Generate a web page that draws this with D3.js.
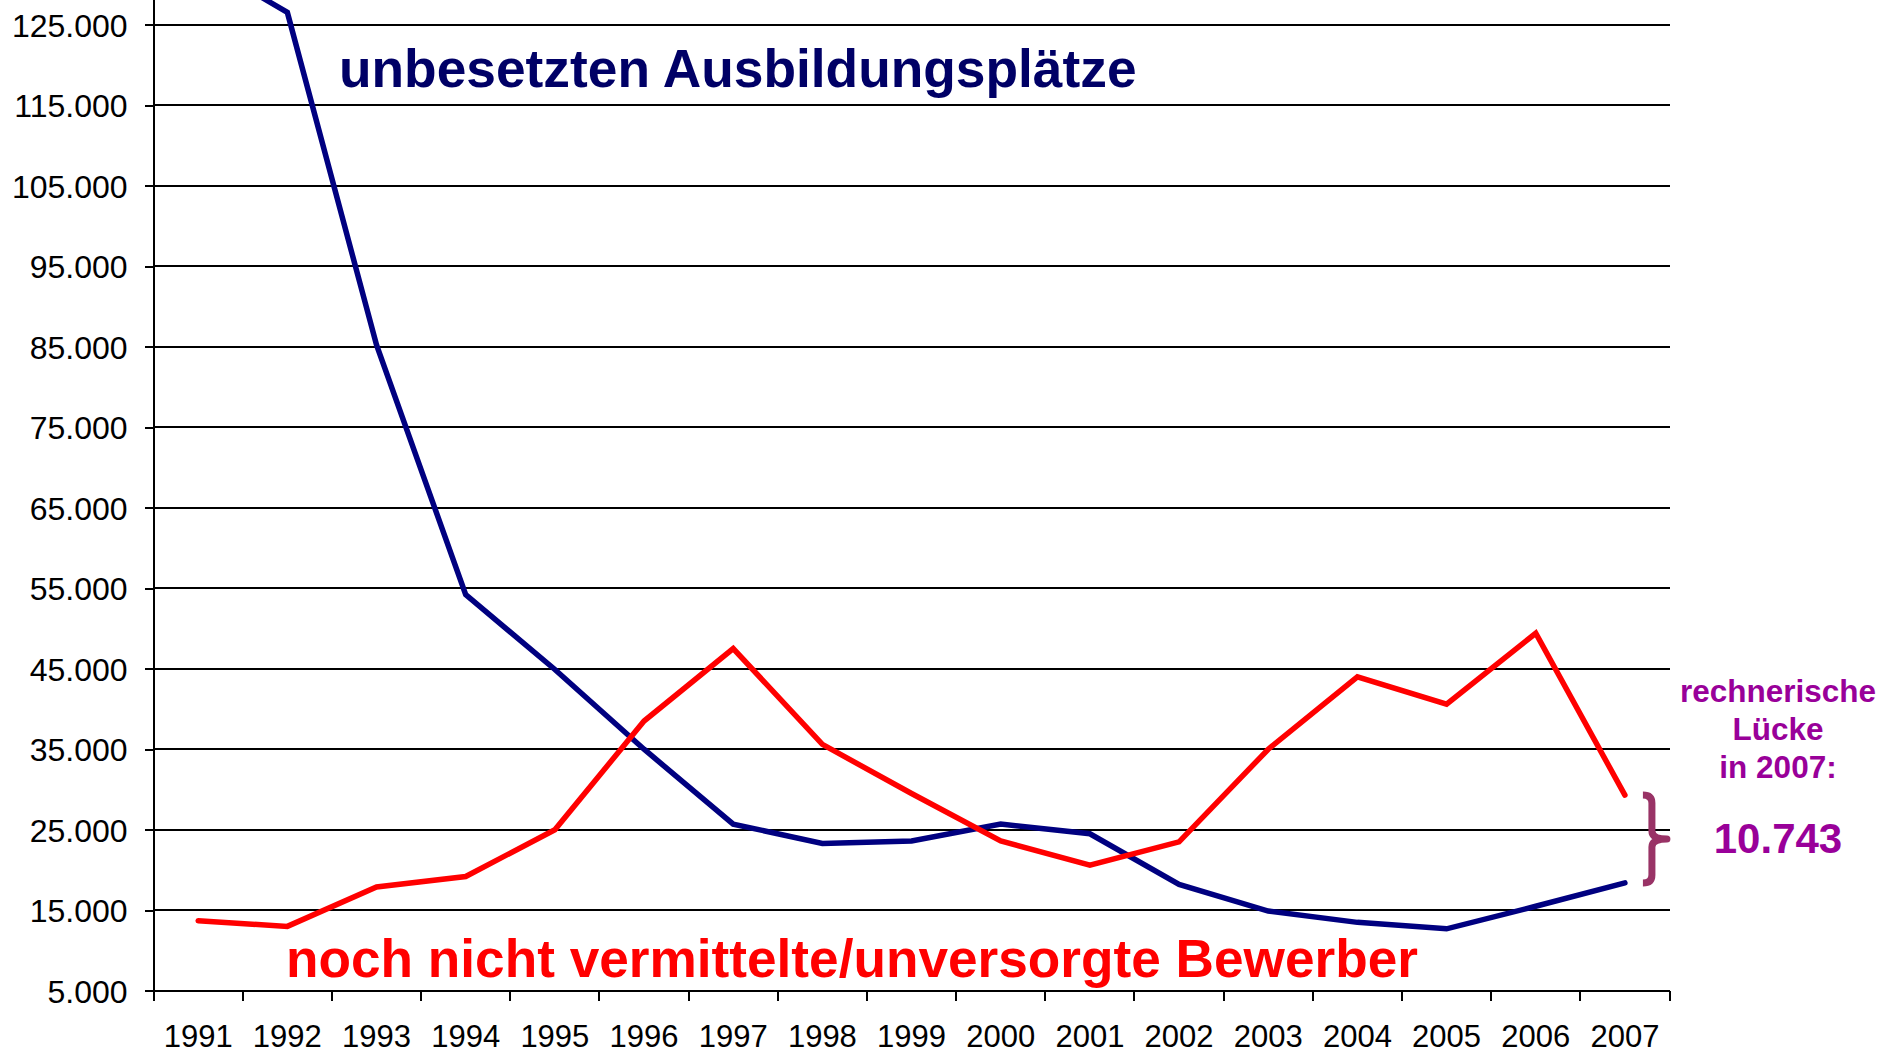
<!DOCTYPE html>
<head>
    <meta charset="utf-8">
</head>
<style>
    body {
      margin: 0;
      background: #fff;
      font-family: "Liberation Sans", Arial, sans-serif;
    }
    svg { display: block; }
    .tick text {
      font-family: "Liberation Sans", Arial, sans-serif;
      font-size: 32px;
      fill: #000;
    }
    .x.axis .tick text {
      font-size: 31px;
    }
    .axis path,
    .axis line {
      fill: none;
      stroke: #000;
      stroke-width: 2px;
      shape-rendering: crispEdges;
    }
    .grid line {
      stroke: #000;
      stroke-width: 2px;
      shape-rendering: crispEdges;
    }
</style>
<body>
<script src="https://d3js.org/d3.v7.min.js"></script>
<script>

var years = ["1991","1992","1993","1994","1995","1996","1997","1998","1999","2000","2001","2002","2003","2004","2005","2006","2007"]

// unbesetzte Ausbildungsplaetze
var unbesetzt = [133000, 126500, 85200, 54200, 44900, 35000, 25700, 23300, 23600, 25700, 24500, 18200, 14900, 13500, 12700, 15500, 18400]

// noch nicht vermittelte / unversorgte Bewerber
var bewerber = [13700, 13000, 17900, 19200, 25000, 38500, 47500, 35600, 29500, 23600, 20600, 23500, 35000, 44000, 40600, 49400, 29300]

var yTicks = [5000, 15000, 25000, 35000, 45000, 55000, 65000, 75000, 85000, 95000, 105000, 115000, 125000]

// rechnerische Luecke 2007, as printed on the chart
var gap2007 = 10743

var width = 1897,
    height = 1055,
    left = 153.6,
    right = 1669.5,
    bottom = 990.8

var svg = d3.select("body").append("svg")
    .attr("width", width)
    .attr("height", height)

var de = d3.formatLocale({decimal: ",", thousands: ".", grouping: [3], currency: ["", " €"]})
var fmt = de.format(",d")

var x = d3.scaleBand()
    .domain(years)
    .range([left, right])
    .padding(0)

var y = d3.scaleLinear()
    .domain([5000, 135000])
    .range([bottom, bottom - 13 * 80.525])

// gridlines
svg.append("g")
    .attr("class", "grid")
  .selectAll("line")
    .data(yTicks)
  .enter().append("line")
    .attr("x1", left)
    .attr("x2", right)
    .attr("y1", function(d) { return y(d) })
    .attr("y2", function(d) { return y(d) })

// y axis
var yAxis = d3.axisLeft(y)
    .tickValues(yTicks)
    .tickSize(9)
    .tickSizeOuter(0)
    .tickPadding(17)
    .tickFormat(fmt)

svg.append("g")
    .attr("class", "y axis")
    .attr("transform", "translate(" + left + ",0)")
    .call(yAxis)
  .selectAll(".tick text")
    .attr("dy", "0.36em")

// x axis: labels at band centres, tick marks at band edges
var xAxis = d3.axisBottom(x)
    .tickSize(0)
    .tickSizeOuter(0)

var gx = svg.append("g")
    .attr("class", "x axis")
    .attr("transform", "translate(0," + bottom + ")")
    .call(xAxis)

gx.selectAll(".tick text")
    .attr("y", 56.5)
    .attr("dy", 0)

gx.selectAll(".edge")
    .data(years.concat(["end"]))
  .enter().append("line")
    .attr("class", "edge")
    .attr("x1", function(d) { return d === "end" ? right : x(d) })
    .attr("x2", function(d) { return d === "end" ? right : x(d) })
    .attr("y1", 0)
    .attr("y2", 10)

// lines
var line = d3.line()
    .x(function(d, i) { return x(years[i]) + x.bandwidth() / 2 })
    .y(function(d) { return y(d) })

svg.append("path")
    .datum(unbesetzt)
    .attr("d", line)
    .attr("fill", "none")
    .attr("stroke", "#000080")
    .attr("stroke-width", 5.5)
    .attr("stroke-linejoin", "miter")
    .attr("stroke-linecap", "round")

svg.append("path")
    .datum(bewerber)
    .attr("d", line)
    .attr("fill", "none")
    .attr("stroke", "#ff0000")
    .attr("stroke-width", 5.5)
    .attr("stroke-linejoin", "miter")
    .attr("stroke-linecap", "round")

// series labels
svg.append("text")
    .attr("x", 339)
    .attr("y", 86.5)
    .style("font-size", "53.3px")
    .style("font-weight", "bold")
    .style("fill", "#000066")
    .text("unbesetzten Ausbildungsplätze")

svg.append("text")
    .attr("x", 286)
    .attr("y", 976.5)
    .style("font-size", "53.2px")
    .style("font-weight", "bold")
    .style("fill", "#ff0000")
    .text("noch nicht vermittelte/unversorgte Bewerber")

// brace between the two 2007 values
var last = years.length - 1
var cx = x(years[last]) + x.bandwidth() / 2
var y0 = y(bewerber[last]),
    y1 = y(unbesetzt[last]),
    ym = (y0 + y1) / 2,
    bx0 = cx + 18,
    bxs = cx + 27,
    bxt = cx + 42,
    r = 8

svg.append("path")
    .attr("d", "M" + bx0 + "," + y0 +
               " Q" + bxs + "," + y0 + " " + bxs + "," + (y0 + r) +
               " L" + bxs + "," + (ym - r) +
               " Q" + bxs + "," + ym + " " + bxt + "," + ym +
               " Q" + bxs + "," + ym + " " + bxs + "," + (ym + r) +
               " L" + bxs + "," + (y1 - r) +
               " Q" + bxs + "," + y1 + " " + bx0 + "," + y1)
    .attr("fill", "none")
    .attr("stroke", "#993366")
    .attr("stroke-width", 7)
    .attr("stroke-linejoin", "round")

// gap annotation
var note = svg.append("g")
    .attr("text-anchor", "middle")
    .style("font-weight", "bold")
    .style("fill", "#990099")

note.selectAll(".line")
    .data(["rechnerische", "Lücke", "in 2007:"])
  .enter().append("text")
    .attr("x", 1778)
    .attr("y", function(d, i) { return 701.7 + i * 38 })
    .style("font-size", "31.5px")
    .text(function(d) { return d })

note.append("text")
    .attr("x", 1778)
    .attr("y", 852.7)
    .style("font-size", "42px")
    .text(fmt(gap2007))

</script>
</body>
